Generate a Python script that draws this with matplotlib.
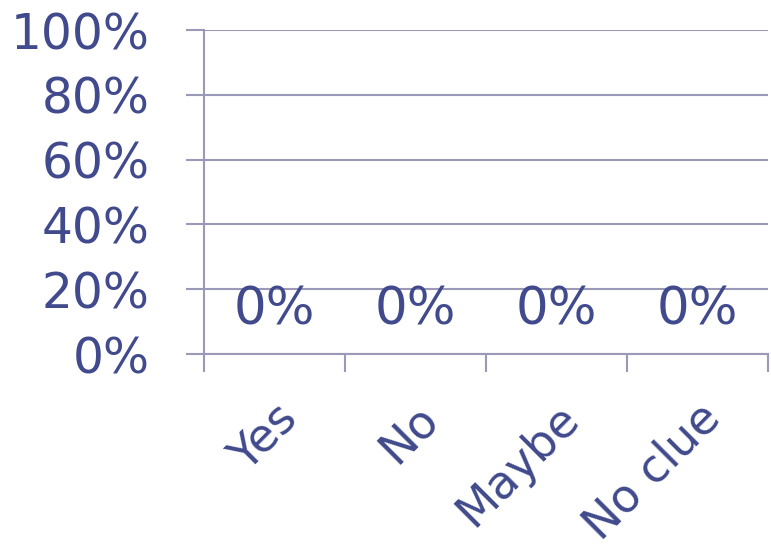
import numpy as np
from matplotlib import pyplot as plt
from matplotlib.ticker import FixedLocator

categories = ["Yes", "No", "Maybe", "No clue"]
values = [0, 0, 0, 0]
yticks = [0, 20, 40, 60, 80, 100]

text_color = "#404a8c"
grid_color = "#9a9ab8"


def main():
    fig = plt.figure(figsize=(7.71, 5.49), dpi=100)
    ax = fig.add_axes([204 / 771, 195 / 549, 564 / 771, 324 / 549])

    x = np.arange(len(categories))
    bars = ax.bar(x, values, width=0.6, color="#5b6bbf")

    for b, v in zip(bars, values):
        ax.annotate(f"{v:.0f}%", (b.get_x() + b.get_width() / 2, v),
                    xytext=(0, 13), textcoords="offset points",
                    ha="center", va="bottom", fontsize=37, color=text_color)

    ax.set_xlim(-0.5, len(categories) - 0.5)
    ax.set_ylim(0, 100)
    ax.set_yticks(yticks)
    ax.set_yticklabels([f"{t}%" for t in yticks])
    ax.yaxis.grid(True, color=grid_color, lw=1.5)
    ax.set_axisbelow(True)

    ax.set_xticks(x)
    ax.set_xticklabels(categories, rotation=45, ha="right",
                       rotation_mode="anchor")
    ax.xaxis.set_minor_locator(FixedLocator(np.arange(-0.5, len(categories), 1.0)))
    ax.tick_params(axis="x", which="major", length=0, pad=30,
                   labelsize=33, labelcolor=text_color)
    ax.tick_params(axis="x", which="minor", length=13, width=1.5,
                   color=grid_color, direction="out")
    ax.tick_params(axis="y", length=13, width=1.5, color=grid_color,
                   pad=26, labelsize=35, labelcolor=text_color)

    for s in ["top", "right"]:
        ax.spines[s].set_visible(False)
    for s in ["left", "bottom"]:
        ax.spines[s].set_color(grid_color)
        ax.spines[s].set_linewidth(1.5)

    plt.savefig("out.png", dpi=100)


if __name__ == "__main__":
    main()
